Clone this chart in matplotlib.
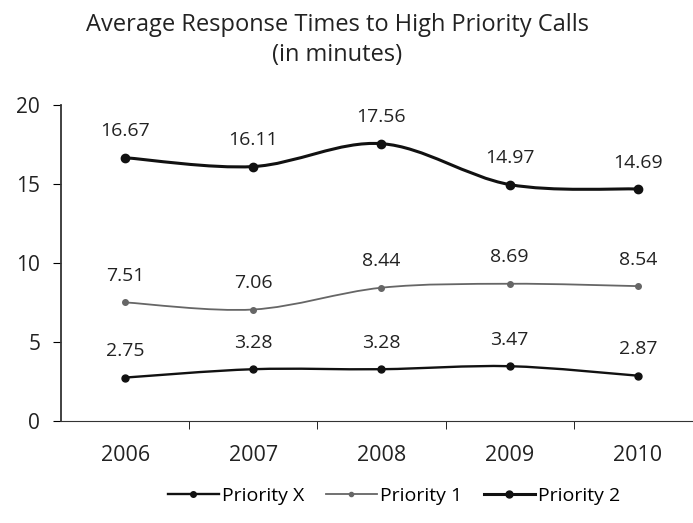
import numpy as np
import matplotlib.pyplot as plt
from matplotlib.path import Path
from matplotlib.patches import PathPatch
from matplotlib.lines import Line2D

years = ['2006', '2007', '2008', '2009', '2010']
priority_x = [2.75, 3.28, 3.28, 3.47, 2.87]
priority_1 = [7.51, 7.06, 8.44, 8.69, 8.54]
priority_2 = [16.67, 16.11, 17.56, 14.97, 14.69]

plt.rcParams['font.family'] = ['Open Sans', 'DejaVu Sans']


def smooth_path(xs, ys, t=1/6):
    # Catmull-Rom style bezier through the points, like a smoothed line
    pts = np.column_stack([xs, ys]).astype(float)
    verts = [pts[0]]
    codes = [Path.MOVETO]
    n = len(pts)
    for i in range(n - 1):
        p0 = pts[i - 1] if i > 0 else pts[i]
        p1 = pts[i]
        p2 = pts[i + 1]
        p3 = pts[i + 2] if i + 2 < n else pts[i + 1]
        c1 = p1 + (p2 - p0) * t
        c2 = p2 - (p3 - p1) * t
        verts += [c1, c2, p2]
        codes += [Path.CURVE4] * 3
    return Path(verts, codes)


fig = plt.figure(figsize=(6.93, 5.23), dpi=100)
ax = fig.add_axes([0.088, 0.195, 0.925, 0.604])

x = np.arange(len(years))
series = [
    (priority_x, 'Priority X', '#111111', 1.7, 'o', 5),
    (priority_1, 'Priority 1', '#666666', 1.3, 'o', 4),
    (priority_2, 'Priority 2', '#111111', 2.2, 'o', 6),
]
handles = []
for vals, name, col, lw, mk, ms in series:
    ax.add_patch(PathPatch(smooth_path(x, vals), facecolor='none',
                           edgecolor=col, lw=lw))
    ax.plot(x, vals, ls='none', marker=mk, ms=ms, color=col)
    for xi, v in zip(x, vals):
        ax.annotate(f'{v:.2f}', (xi, v), xytext=(0, 19), textcoords='offset points',
                    ha='center', va='center', fontsize=14, color='#222222')
    handles.append(Line2D([], [], color=col, lw=lw, marker=mk, ms=ms - 1))

ax.set_xlim(-0.5, 4.5)
ax.set_ylim(0, 20)
ax.set_yticks([0, 5, 10, 15, 20])
ax.tick_params(axis='y', labelsize=15, length=6, direction='out', pad=9,
               labelcolor='#222222')
ax.set_xticks(x)
ax.set_xticklabels(years)
ax.tick_params(axis='x', which='major', length=0, labelsize=15.5, pad=17,
               labelcolor='#222222')
ax.set_xticks([0.5, 1.5, 2.5, 3.5], minor=True)
ax.tick_params(axis='x', which='minor', length=6, direction='out')
for s in ['top', 'right']:
    ax.spines[s].set_visible(False)
for s in ['left', 'bottom']:
    ax.spines[s].set_color('#333333')
ax.spines['left'].set_linewidth(1.3)

fig.text(0.487, 0.952, 'Average Response Times to High Priority Calls',
         ha='center', va='center', fontsize=17, color='#222222')
fig.text(0.487, 0.895, '(in minutes)', ha='center', va='center', fontsize=17,
         color='#222222')

fig.legend(handles, [s[1] for s in series], loc='center', ncol=3,
           bbox_to_anchor=(0.569, 0.052), frameon=False, fontsize=14,
           handlelength=2.6, handletextpad=0.2, columnspacing=1.1)

fig.savefig('out.png', dpi=100)
